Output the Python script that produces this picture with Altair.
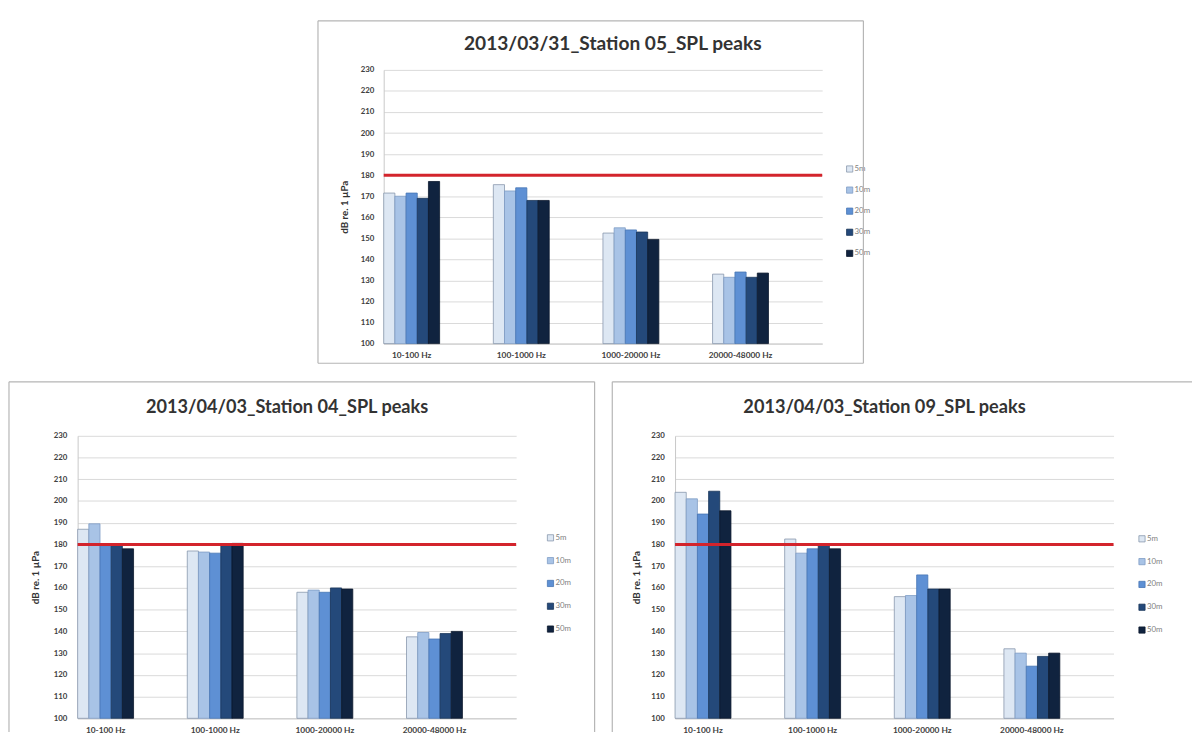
import altair as alt
import pandas as pd

# ---------------- data ----------------
bands = ["10-100 Hz", "100-1000 Hz", "1000-20000 Hz", "20000-48000 Hz"]
series = ["5m", "10m", "20m", "30m", "50m"]
y_ticks = list(range(100, 231, 10))
threshold = 180

titles = [
    "2013/03/31_Station 05_SPL peaks",
    "2013/04/03_Station 04_SPL peaks",
    "2013/04/03_Station 09_SPL peaks",
]

# values per band (rows) and per series (columns: 5m, 10m, 20m, 30m, 50m)
st05 = [
    [171.5, 170.0, 171.5, 169.0, 177.0],
    [175.5, 172.5, 174.0, 168.0, 168.0],
    [152.5, 155.0, 154.0, 153.0, 149.5],
    [133.0, 131.5, 134.0, 131.5, 133.5],
]
st04 = [
    [187.0, 189.5, 179.5, 179.5, 178.0],
    [177.0, 176.5, 176.0, 179.5, 180.5],
    [158.0, 159.0, 158.0, 160.0, 159.5],
    [137.5, 139.5, 136.5, 139.0, 140.0],
]
st09 = [
    [204.0, 201.0, 194.0, 204.5, 195.5],
    [182.5, 176.0, 178.0, 180.0, 178.0],
    [156.0, 156.5, 166.0, 159.5, 159.5],
    [132.0, 130.0, 124.0, 128.5, 130.0],
]

# ---------------- style ----------------
colors = ["#dde7f3", "#a8c3e6", "#5e90d4", "#24497a", "#10233f"]
strokes = ["#8796ac", "#7d9bc4", "#4574b3", "#183559", "#0a172b"]
FONT = "Lato"
BORDER = "#b5b5b5"


def y_axis(title_pad, label_pad):
    return alt.Axis(values=y_ticks, title="dB re. 1 µPa", ticks=False,
                    labelPadding=label_pad, labelFontSize=8,
                    labelFontWeight="bold", labelColor="#404040",
                    labelFont=FONT, titleFont=FONT, titleFontSize=10,
                    titleFontWeight="bold", titleColor="#333333",
                    titlePadding=title_pad, domainColor="#c8c8c8",
                    gridColor="#d9d9d9", gridWidth=1, labelOverlap=False)


def panel(title_text, values, W, H, box, legend_x, legend_y, title_size, title_x, title_y,
          y_title_pad, y_label_pad):
    rows = []
    for i, b in enumerate(bands):
        for j, s in enumerate(series):
            rows.append({"band": b, "series": s, "value": values[i][j]})
    df = pd.DataFrame(rows)

    ysc = alt.Scale(domain=[y_ticks[0], y_ticks[-1]], nice=False, zero=False)
    col = alt.Color("series:N", sort=series,
                    scale=alt.Scale(domain=series, range=colors), legend=None)
    stk = alt.Stroke("series:N", sort=series,
                     scale=alt.Scale(domain=series, range=strokes), legend=None)
    yax = y_axis(y_title_pad, y_label_pad)

    bars = alt.Chart(df).mark_bar(strokeWidth=0.8).encode(
        x=alt.X("band:N", sort=bands,
                scale=alt.Scale(paddingInner=0.49, paddingOuter=0.245, align=0),
                axis=alt.Axis(title=None, labelAngle=0, ticks=False, labelPadding=7,
                              labelFontSize=8.5, labelFontWeight="bold",
                              labelColor="#404040", labelFont=FONT,
                              domainColor="#c8c8c8", grid=False)),
        xOffset=alt.XOffset("series:N", sort=series,
                            scale=alt.Scale(paddingInner=0, paddingOuter=0)),
        y=alt.Y("value:Q", scale=ysc, axis=yax),
        y2=alt.datum(y_ticks[0]),
        color=col,
        stroke=stk,
    )
    rule = alt.Chart(pd.DataFrame({"value": [threshold]})).mark_rule(
        color="#d3242c", strokeWidth=3).encode(y=alt.Y("value:Q", scale=ysc, axis=yax))

    leg_df = pd.DataFrame({"series": series})
    ly = alt.Y("series:N", sort=series,
               scale=alt.Scale(range=legend_y, padding=0), axis=None)
    sq = alt.Chart(leg_df).mark_square(size=40, strokeWidth=0.8, opacity=1).encode(
        x=alt.value(legend_x), y=ly, color=col, stroke=stk)
    tx = alt.Chart(leg_df).mark_text(align="left", baseline="middle", dx=5,
                                     fontSize=8, font=FONT, color="#808080").encode(
        x=alt.value(legend_x), y=ly, text="series:N")

    base = alt.Chart(pd.DataFrame({"k": [0]}))
    layers = [alt.layer(bars, rule), sq, tx]
    left, right, top, bottom = box["left"], box.get("right"), box["top"], box["bottom"]
    x_end = right if right is not None else W + 80
    layers.append(base.mark_rule(color=BORDER, strokeWidth=1.2).encode(
        x=alt.value(left), x2=alt.value(x_end), y=alt.value(top)))
    layers.append(base.mark_rule(color=BORDER, strokeWidth=1.2).encode(
        x=alt.value(left), y=alt.value(top), y2=alt.value(bottom)))
    if right is not None:
        layers.append(base.mark_rule(color=BORDER, strokeWidth=1.2).encode(
            x=alt.value(right), y=alt.value(top), y2=alt.value(bottom)))
    if box.get("closed"):
        layers.append(base.mark_rule(color=BORDER, strokeWidth=1.2).encode(
            x=alt.value(left), x2=alt.value(right), y=alt.value(bottom)))
    layers.append(base.mark_text(fontSize=title_size, font=FONT, fontWeight="bold",
                                 color="#333333", baseline="middle", align="center").encode(
        x=alt.value(title_x), y=alt.value(title_y), text=alt.value(title_text)))

    return alt.layer(*layers).resolve_scale(y="independent").properties(width=W, height=H)


W = 447
HT = 279
HB = 288
top = panel(titles[0], st05, W, HT,
            {"left": -67, "right": W + 42, "top": -50, "bottom": HT + 20, "closed": True},
            475, [101, 187], 19.5, W / 2 + 10, -26, 11, 10)
bl = panel(titles[1], st04, W, HB,
           {"left": -70, "right": W + 80, "top": -55, "bottom": HB + 14},
           482, [104, 197], 18.5, W / 2 - 10, -29, 13, 11)
br = panel(titles[2], st09, W, HB,
           {"left": -64, "top": -55, "bottom": HB + 14},
           476, [105, 198], 18.5, W / 2 - 10, -29, 9, 11)

spacer = alt.Chart(pd.DataFrame({"k": [0]})).mark_rule(strokeOpacity=0).encode(
    x=alt.value(0), x2=alt.value(244), y=alt.value(0)).properties(width=244, height=10)

row1 = alt.hconcat(spacer, top, spacing=0)
row2 = alt.hconcat(bl, br, spacing=16)

chart = alt.vconcat(row1, row2, spacing=17).properties(
    padding={"left": 0, "top": 5, "right": 0, "bottom": 0}
).configure(font=FONT).configure_view(strokeWidth=0)

chart.save("out.html", embed_options={"renderer": "svg", "actions": False})
